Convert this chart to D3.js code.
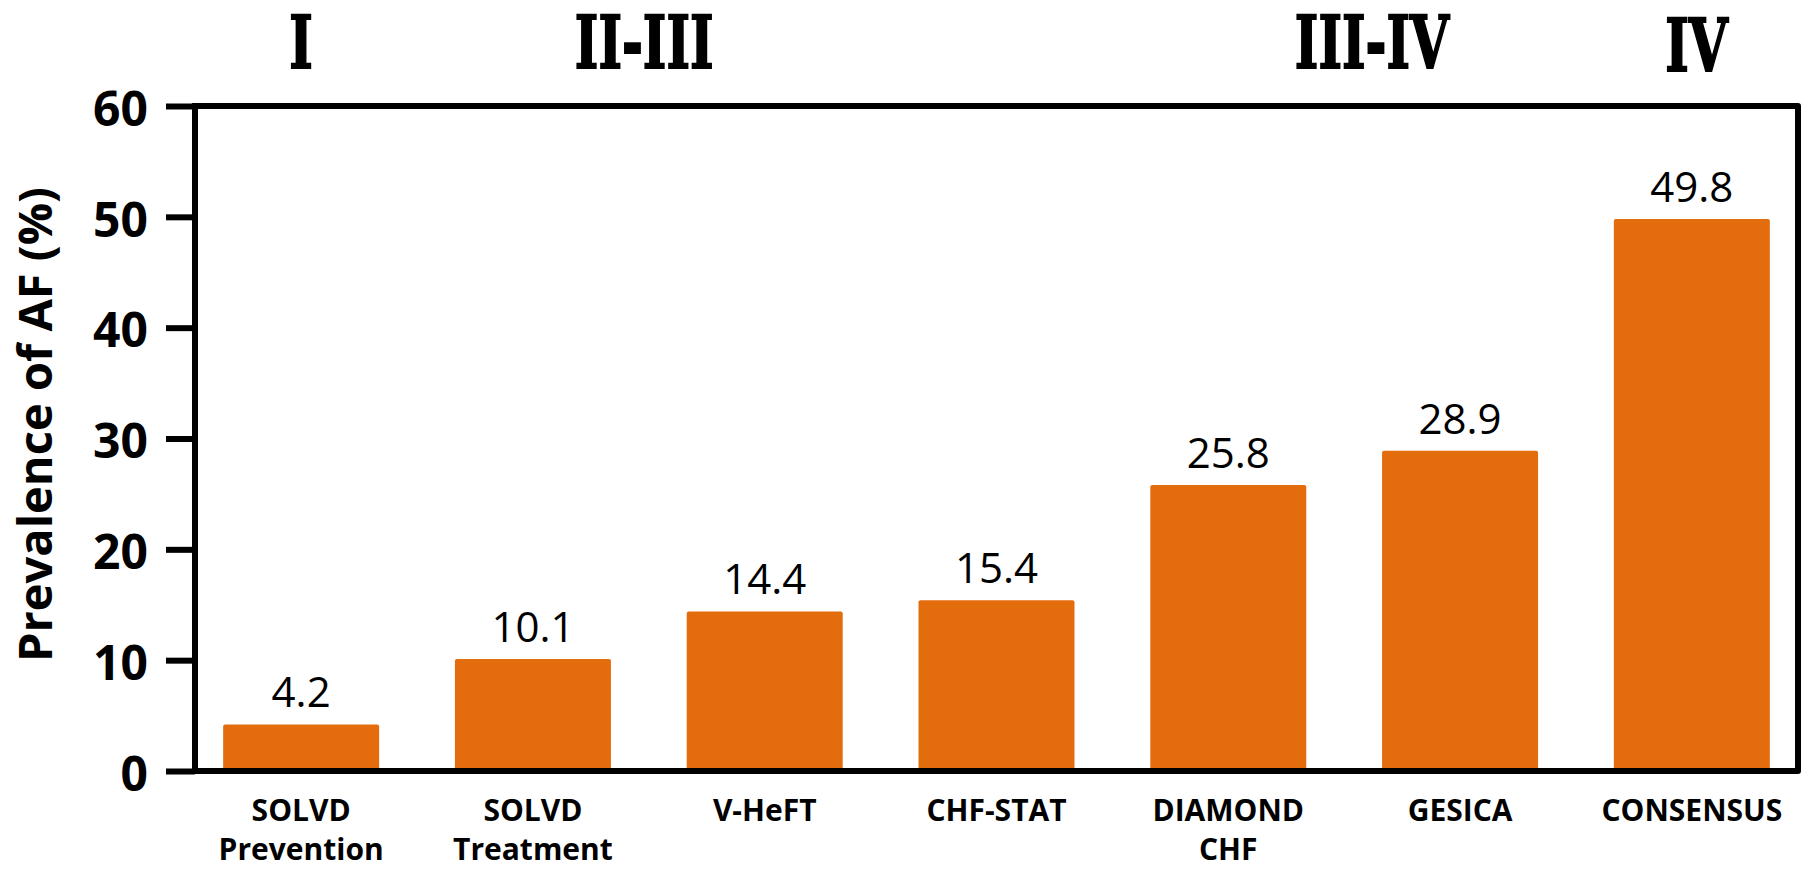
<!DOCTYPE html>
<html>
<head>
<meta charset="utf-8">
<script src="https://cdn.jsdelivr.net/npm/d3@7"></script>
<style>
  html, body { margin: 0; padding: 0; background: #ffffff; }
  svg { display: block; }
</style>
</head>
<body>
<svg id="chart" width="1812" height="869"></svg>
<script>
// ---- data ----
const categories = ["SOLVD\nPrevention", "SOLVD\nTreatment", "V-HeFT", "CHF-STAT", "DIAMOND\nCHF", "GESICA", "CONSENSUS"];
const values = [4.2, 10.1, 14.4, 15.4, 25.8, 28.9, 49.8];
const yTicks = [0, 10, 20, 30, 40, 50, 60];
const classLabels = ["I", "II-III", "III-IV", "IV"];
const classPositions = [0, 1.48, 4.62, 6.02]; // in category-index units
const yTitle = "Prevalence of AF (%)";

// ---- layout ----
const W = 1812, H = 869;
const plotLeft = 195, plotRight = 1798, plotTop = 106, plotBottom = 771;
const barColor = "#e36c0d";
const lineW = 6;

const svg = d3.select("#chart");
svg.append("rect").attr("width", W).attr("height", H).attr("fill", "#fff");

const x = d3.scaleBand()
  .domain(categories)
  .range([plotLeft, plotRight])
  .paddingInner(0.327)
  .paddingOuter(0.1215);

const y = d3.scaleLinear().domain([0, 60]).range([plotBottom, plotTop]);

const step = x.step();
const c0 = x(categories[0]) + x.bandwidth() / 2;

// bars
svg.append("g").selectAll("rect")
  .data(values)
  .join("rect")
  .attr("x", (d, i) => x(categories[i]))
  .attr("y", d => y(d))
  .attr("width", x.bandwidth())
  .attr("height", d => y(0) - y(d))
  .attr("rx", 2)
  .attr("fill", barColor);

// value labels
svg.append("g").selectAll("text")
  .data(values)
  .join("text")
  .attr("x", (d, i) => x(categories[i]) + x.bandwidth() / 2)
  .attr("y", d => y(d) - 17)
  .attr("text-anchor", "middle")
  .attr("font-family", "'Open Sans', sans-serif")
  .attr("font-size", 42)
  .attr("fill", "#000")
  .text(d => d.toFixed(1));

// y axis
const yAxis = d3.axisLeft(y)
  .tickValues(yTicks)
  .tickSize(29)
  .tickSizeOuter(0)
  .tickPadding(18)
  .tickFormat(d3.format("d"));

const gy = svg.append("g")
  .attr("transform", `translate(${plotLeft},0)`)
  .call(yAxis);
gy.select(".domain").attr("stroke", "#000").attr("stroke-width", lineW).attr("d", `M0,${plotTop - lineW/2}V${plotBottom + lineW/2}`);
gy.selectAll(".tick line").attr("stroke", "#000").attr("stroke-width", lineW);
gy.selectAll(".tick text")
  .attr("font-family", "'Open Sans', sans-serif")
  .attr("font-weight", "bold")
  .attr("font-size", 48)
  .attr("fill", "#000")
  .attr("dy", "0.40em");

// frame: top, right, bottom
svg.append("path")
  .attr("fill", "none")
  .attr("stroke", "#000")
  .attr("stroke-width", lineW)
  .attr("stroke-linejoin", "round")
  .attr("d", `M${plotLeft},${y(60)}H${plotRight}V${y(0)}H${plotLeft}`);

// category labels
const cat = svg.append("g").selectAll("text")
  .data(categories)
  .join("text")
  .attr("x", d => x(d) + x.bandwidth() / 2)
  .attr("y", 821)
  .attr("text-anchor", "middle")
  .attr("font-family", "'Open Sans', sans-serif")
  .attr("font-weight", "bold")
  .attr("font-size", 30)
  .attr("fill", "#000");
cat.each(function(d) {
  const lines = d.split("\n");
  const t = d3.select(this);
  lines.forEach((ln, k) => {
    t.append("tspan")
      .attr("x", x(d) + x.bandwidth() / 2)
      .attr("dy", k === 0 ? 0 : 39)
      .text(ln);
  });
});

// y title
svg.append("text")
  .attr("transform", `translate(52,${(plotTop + plotBottom) / 2 - 14}) rotate(-90)`)
  .attr("text-anchor", "middle")
  .attr("font-family", "'Open Sans', sans-serif")
  .attr("font-weight", "bold")
  .attr("font-size", 47)
  .attr("fill", "#000")
  .text(yTitle);

// class annotations (NYHA)
const sx = 0.7;
svg.append("g").selectAll("text")
  .data(classLabels)
  .join("text")
  .attr("transform", (d, i) => `translate(${c0 + classPositions[i] * step},${i === 3 ? 71 : 68}) scale(${sx},1)`)
  .attr("text-anchor", "middle")
  .attr("font-family", "'DejaVu Serif', serif")
  .attr("font-weight", "bold")
  .attr("font-size", 72)
  .attr("fill", "#000")
  .attr("stroke", "#000")
  .attr("stroke-width", 2)
  .text(d => d);
</script>
</body>
</html>
